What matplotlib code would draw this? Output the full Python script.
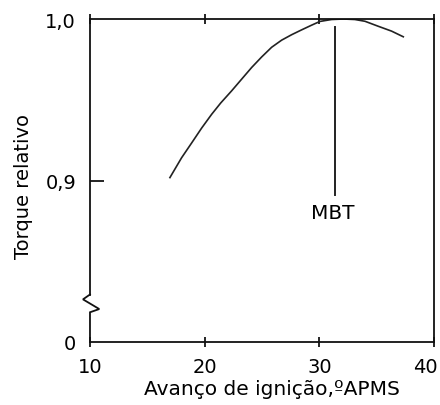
import numpy as np
import matplotlib
matplotlib.use("Agg")
import matplotlib.pyplot as plt
import matplotlib.transforms as mtransforms

# curve (ignition advance, relative torque)
advance = [16.97, 17.99, 18.87, 19.74, 20.61, 21.40, 22.35, 23.23, 24.10, 24.97, 25.84,
           26.71, 27.59, 28.46, 29.33, 30.05, 31.07, 32.10, 33.10, 33.98, 35.14, 36.30, 37.32]
torque = [0.9018, 0.9141, 0.9233, 0.9325, 0.9410, 0.9480, 0.9555, 0.9628, 0.9700, 0.9765, 0.9825,
          0.9869, 0.9903, 0.9933, 0.9962, 0.9985, 0.9997, 1.0, 0.9997, 0.9986, 0.9955, 0.9925, 0.9890]

mbt_x = 31.4
mbt_top = 0.995
mbt_bottom = 0.891

x_ticks = [10, 20, 30, 40]
y_ticks = [0.8, 0.9, 1.0]
y_labels = ["0", "0,9", "1,0"]

plt.rcParams['font.family'] = ['DejaVu Sans']

fig = plt.figure(figsize=(4.4, 4.06), dpi=100)
ax = fig.add_axes([0.2045, 0.1552, 0.7819, 0.7955])

ax.plot(advance, torque, color='#222222', lw=1.2)
ax.plot([mbt_x, mbt_x], [mbt_bottom, mbt_top], color='#222222', lw=1.4)
ax.text(31.2, 0.8800, "MBT", ha='center', va='center', fontsize=14.5)

ax.set_xlim(10, 40)
ax.set_ylim(0.8, 1.0)

for s in ax.spines.values():
    s.set_linewidth(1.3)
    s.set_color('#111111')

# axis break on the left side
ax.spines['left'].set_bounds(0.8294, 1.0)
ax.plot([10, 9.39, 10.81, 10, 10], [0.8294, 0.8264, 0.8204, 0.8184, 0.8],
        color='#111111', lw=1.3, clip_on=False, solid_joinstyle='miter')

ax.set_xticks(x_ticks)
ax.set_yticks(y_ticks)
ax.set_yticklabels(y_labels)
ax.tick_params(axis='x', direction='inout', length=7, width=1.2, top=True, pad=7, labelsize=14)
ax.tick_params(axis='y', direction='in', length=10, width=1.2, pad=10, labelsize=14)

# hide ticks that sit on the corners
for t in ax.xaxis.get_major_ticks():
    if t.get_loc() in (10, 40):
        t.tick1line.set_visible(False)
        t.tick2line.set_visible(False)
for t in ax.yaxis.get_major_ticks():
    if t.get_loc() in (0.8, 1.0):
        t.tick1line.set_visible(False)

# nudge last x label inside the canvas
lbl = ax.get_xticklabels()[-1]
lbl.set_transform(lbl.get_transform() + mtransforms.ScaledTranslation(-9 / 100, 0, fig.dpi_scale_trans))

ax.set_xlabel("Avanço de ignição,ºAPMS", fontsize=14.5)
ax.xaxis.set_label_coords(0.529, -0.115)
ax.set_ylabel("Torque relativo", fontsize=14)
ax.yaxis.set_label_coords(-0.166, 0.486)

fig.savefig("out.png", dpi=100)
